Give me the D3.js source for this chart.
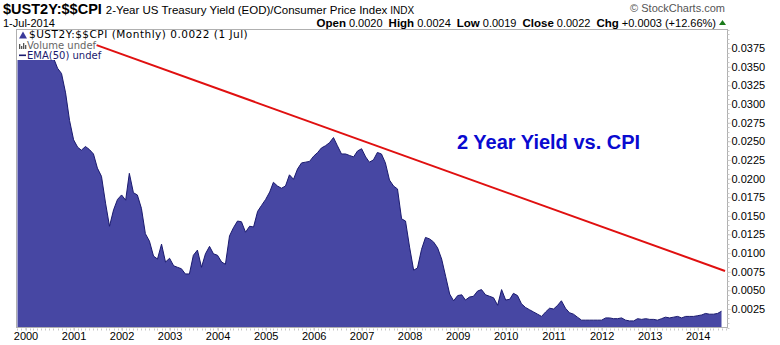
<!DOCTYPE html>
<html><head><meta charset="utf-8">
<script src="https://cdn.jsdelivr.net/npm/d3@7"></script>
<style>
html,body{margin:0;padding:0;background:#fff;}
svg{display:block;}
</style></head>
<body>
<svg id="chart" width="780" height="345" font-family="'Liberation Sans',Arial,sans-serif"></svg>
<script>
// ---- data ----
const startMonth = "1999-11";
// $UST2Y:$$CPI monthly closes, Nov 1999 .. Jul 2014
const ratio = [
 0.0365,0.0372,
 0.0380,0.0383,0.0380,0.0385,0.0395,0.0375,0.0370,0.0362,0.0348,0.0341,0.0315,0.0278,
 0.0252,0.0242,0.0238,0.0243,0.0239,0.0233,0.0214,0.0203,0.0167,0.0136,0.0158,0.0172,
 0.0178,0.0171,0.0207,0.0181,0.0178,0.0160,0.0126,0.0116,0.0096,0.0092,0.0112,0.0088,
 0.0093,0.0083,0.0081,0.0079,0.0072,0.0072,0.0097,0.0104,0.0081,0.0099,0.0109,0.0099,
 0.0097,0.0088,0.0085,0.0123,0.0134,0.0143,0.0142,0.0128,0.0136,0.0135,0.0156,0.0164,
 0.0172,0.0182,0.0195,0.0190,0.0187,0.0190,0.0205,0.0199,0.0213,0.0221,0.0222,0.0223,
 0.0230,0.0235,0.0241,0.0244,0.0248,0.0255,0.0244,0.0233,0.0233,0.0231,0.0229,0.0237,
 0.0240,0.0229,0.0222,0.0225,0.0235,0.0233,0.0221,0.0198,0.0190,0.0186,0.0146,0.0143,
 0.0108,0.0077,0.0080,0.0105,0.0121,0.0119,0.0115,0.0107,0.0092,0.0069,0.0045,0.0036,
 0.0043,0.0044,0.0037,0.0041,0.0042,0.0049,0.0051,0.0044,0.0042,0.0040,0.0030,0.0051,
 0.0037,0.0038,0.0046,0.0043,0.0032,0.0027,0.0024,0.0021,0.0018,0.0015,0.0021,0.0026,
 0.0025,0.0030,0.0036,0.0026,0.0020,0.0018,0.0014,0.0010,0.0010,0.0010,0.0010,0.0010,
 0.0010,0.0013,0.0013,0.0012,0.0012,0.0013,0.0010,0.0009,0.0009,0.0012,0.0011,0.0012,
 0.0011,0.0011,0.0010,0.0012,0.0014,0.0013,0.0014,0.0015,0.0013,0.0015,0.0015,0.0015,
 0.0016,0.0017,0.0019,0.0018,0.0018,0.0019,0.0022
];
const yearLabels = ["2000","2001","2002","2003","2004","2005","2006","2007","2008","2009","2010","2011","2012","2013","2014"];
const yTickValues = [0.0025,0.0050,0.0075,0.0100,0.0125,0.0150,0.0175,0.0200,0.0225,0.0250,0.0275,0.0300,0.0325,0.0350,0.0375];
const trendDates = ["2001-06-25","2014-07-28"];
const trendValues = [0.0379,0.0076];

// ---- layout ----
const svg = d3.select("#chart");
const L = 16.5, R = 727.5, T = 29.5, B = 327.5;
const parse = d3.timeParse("%Y-%m");
const parseDay = d3.timeParse("%Y-%m-%d");
const start = parse(startMonth);
const series = ratio.map((v,i)=>({date:d3.timeMonth.offset(start,i), value:v}));

const x = d3.scaleTime().domain([new Date(2000,0,1), new Date(2014,6,1)]).range([25.5, 721.5]);
const y = d3.scaleLinear().domain([0,0.04]).range([327.6, 29.5]);

const defs = svg.append("defs");
defs.append("clipPath").attr("id","plotclip").append("rect")
  .attr("x",L).attr("y",T).attr("width",R-L).attr("height",B-T);

const g = svg.append("g").attr("clip-path","url(#plotclip)");

const area = d3.area().x(d=>x(d.date)).y0(y(0)).y1(d=>y(d.value));
const line = d3.line().x(d=>x(d.date)).y(d=>y(d.value));
g.append("path").datum(series).attr("d",area).attr("fill","#4747a3");
g.append("path").datum(series).attr("d",line).attr("fill","none").attr("stroke","#1a1a6e").attr("stroke-width",1);

// legend background
g.append("rect").attr("x",L+0.5).attr("y",T+0.5).attr("width",84).attr("height",30).attr("fill","#fff");

// trend line
const trend = trendDates.map((d,i)=>({date:parseDay(d), value:trendValues[i]}));
g.append("path").datum(trend).attr("d",line).attr("fill","none").attr("stroke","#e01010").attr("stroke-width",2);

// frame
svg.append("rect").attr("x",L).attr("y",T).attr("width",R-L).attr("height",B-T)
  .attr("fill","none").attr("stroke","#b0b0b0").attr("stroke-width",1);

// right axis
const yAxis = d3.axisRight(y).tickValues(yTickValues).tickFormat(d3.format(".4f")).tickSize(3).tickPadding(1);
const ya = svg.append("g").attr("transform",`translate(${R},0)`).call(yAxis);
ya.select(".domain").remove();
ya.selectAll(".tick line").attr("stroke","#b0b0b0").attr("stroke-dasharray","1,1");
ya.selectAll("text").attr("font-size","11px").attr("fill","#000").attr("font-family","'Liberation Sans',Arial,sans-serif");
const minorY = d3.range(0,0.0401,0.000625);
svg.append("g").selectAll("line").data(minorY).join("line")
  .attr("x1",R).attr("x2",R+2).attr("y1",d=>Math.round(y(d))+0.5).attr("y2",d=>Math.round(y(d))+0.5)
  .attr("stroke","#c8c8c8");

// bottom axis
const yearDates = yearLabels.map(s=>new Date(+s,0,1));
const xAxis = d3.axisBottom(x).tickValues(yearDates).tickFormat((d,i)=>yearLabels[i]).tickSize(3).tickPadding(2);
const xa = svg.append("g").attr("transform",`translate(0,${B})`).call(xAxis);
xa.select(".domain").remove();
xa.selectAll(".tick line").attr("stroke","#b0b0b0");
xa.selectAll("text").attr("font-size","11px").attr("fill","#000").attr("font-family","'Liberation Sans',Arial,sans-serif");
const months = d3.timeMonth.range(new Date(1999,10,1), new Date(2014,8,1));
svg.append("g").selectAll("line").data(months).join("line")
  .attr("x1",d=>Math.round(x(d))+0.5).attr("x2",d=>Math.round(x(d))+0.5)
  .attr("y1",B+1).attr("y2",B+3).attr("stroke","#c8c8c8");

// header
const h1 = svg.append("text").attr("x",3).attr("y",14);
h1.append("tspan").attr("font-weight","bold").attr("font-size","14.5px").text("$UST2Y:$$CPI");
h1.append("tspan").attr("font-size","11.5px").attr("dx",4).text("2-Year US Treasury Yield (EOD)/Consumer Price Index");
h1.append("tspan").attr("font-size","10px").attr("dx",3).text("INDX");
svg.append("text").attr("x",3).attr("y",26.5).attr("font-size","11px").text("1-Jul-2014");
svg.append("text").attr("x",725).attr("y",12).attr("text-anchor","end").attr("font-size","11px").attr("fill","#555").text("© StockCharts.com");

const h2 = svg.append("text").attr("x",716).attr("y",26.5).attr("text-anchor","end").attr("font-size","11px");
[["Open","0.0020"],["High","0.0024"],["Low","0.0019"],["Close","0.0022"],["Chg","+0.0003 (+12.66%)"]].forEach((p,i)=>{
  h2.append("tspan").attr("font-weight","bold").attr("font-size","11.5px").attr("dx",i?6:0).text(p[0]);
  h2.append("tspan").attr("dx",3).text(p[1]);
});
svg.append("path").attr("d","M719,25 L722.5,20 L726,25 Z").attr("fill","#1a7a1a");

// legend
const lg = svg.append("g").attr("font-family","'DejaVu Sans',Verdana,sans-serif");
lg.append("path").attr("d","M19,38.5 L23,31.5 L27,38.5 Z").attr("fill","#3a3a9a");
lg.append("text").attr("x",29).attr("y",38).attr("font-size","10.5px").attr("letter-spacing","0.5px").attr("fill","#000").text("$UST2Y:$$CPI (Monthly) 0.0022 (1 Jul)");
[[19,5],[21,3],[23,6],[25,4]].forEach(b=>lg.append("rect").attr("x",b[0]).attr("y",49-b[1]).attr("width",1.3).attr("height",b[1]).attr("fill","#555"));
lg.append("text").attr("x",27).attr("y",49).attr("font-size","10px").attr("fill","#666").text("Volume undef");
lg.append("rect").attr("x",19).attr("y",54.5).attr("width",7).attr("height",1.6).attr("fill","#1a1a6e");
lg.append("text").attr("x",27).attr("y",59).attr("font-size","10px").attr("fill","#1a1a6e").text("EMA(50) undef");

// annotation
svg.append("text").attr("x",457).attr("y",149).attr("font-size","20px").attr("font-weight","bold")
  .attr("fill","#0a0ad0").text("2 Year Yield vs. CPI");
</script>
</body></html>
